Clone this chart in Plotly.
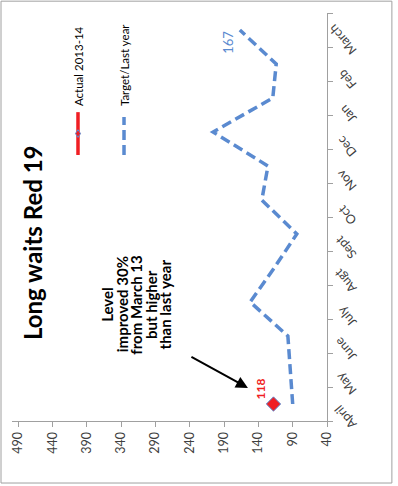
import plotly.graph_objects as go

# Monthly long waits, Red 19
months = ["April", "May", "June", "July", "Augt", "Sept",
          "Oct", "Nov", "Dec", "Jan", "Feb", "March"]
target_last_year = [90, 94, 97, 152, 117, 84, 135, 126, 206, 119, 114, 167]
actual_2013_14 = [118, None, None, None, None, None,
                  None, None, None, None, None, None]
value_ticks = [490, 440, 390, 340, 290, 240, 190, 140, 90, 40]
note_lines = ["Level", "improved 30%", "from March 13",
              "but higher", "than last year"]

BLUE = "#5A8AD0"
RED = "#F01E23"
GREY_TXT = "#404040"
FONT = "Lato"

fig = go.Figure()

fig.add_trace(go.Scatter(
    x=target_last_year, y=months, mode="lines",
    line=dict(color=BLUE, width=3.5, dash="10px,5px"),
    name="Target/Last year", showlegend=False,
))
fig.add_trace(go.Scatter(
    x=actual_2013_14, y=months, mode="markers",
    marker=dict(symbol="diamond", size=11, color=RED,
                line=dict(color=BLUE, width=1)),
    name="Actual 2013-14", showlegend=False,
))

# value labels
fig.add_annotation(x=actual_2013_14[0], y=months[0], text="<b>118</b>",
                   showarrow=False, textangle=-90, xshift=-13, yshift=15,
                   font=dict(family=FONT, size=12, color=RED))
fig.add_annotation(x=target_last_year[-1], y=months[-1], text="167",
                   showarrow=False, textangle=-90, xshift=-12, yshift=-12,
                   font=dict(family=FONT, size=13, color=BLUE))

# title
fig.add_annotation(xref="paper", yref="paper", x=0.0635, y=0.436,
                   text="<b>Long waits Red 19</b>", showarrow=False,
                   textangle=-90, xanchor="center", yanchor="middle",
                   font=dict(family=FONT, size=24, color="black"))

# comment block, one annotation per line for tight spacing
note_x0 = 0.302
note_dx = 0.0457
for i, line in enumerate(note_lines):
    fig.add_annotation(xref="paper", yref="paper",
                       x=note_x0 + i * note_dx, y=0.285,
                       text="<b>" + line + "</b>",
                       showarrow=False, textangle=-90,
                       xanchor="center", yanchor="middle",
                       font=dict(family=FONT, size=15, color="black"))

# arrow pointing to the April actual
fig.add_annotation(xref="paper", yref="paper", x=0.749, y=0.081,
                   ax=-58, ay=-32, text="", showarrow=True,
                   arrowhead=2, arrowsize=1.2, arrowwidth=2,
                   arrowcolor="black")

# legend (drawn rotated)
fig.add_shape(type="line", xref="paper", yref="paper",
              x0=0.2095, x1=0.2095, y0=0.652, y1=0.757,
              line=dict(color=RED, width=3.5))
fig.add_shape(type="path", xref="paper", yref="paper",
              path="M 0.2095 0.714 L 0.2175 0.7045 L 0.2095 0.695 "
                   "L 0.2015 0.7045 Z",
              fillcolor=RED, line=dict(color=BLUE, width=1))
fig.add_shape(type="line", xref="paper", yref="paper",
              x0=0.3556, x1=0.3556, y0=0.652, y1=0.745,
              line=dict(color=BLUE, width=3.5, dash="10px,5px"))
fig.add_annotation(xref="paper", yref="paper", x=0.2095, y=0.767,
                   text="Actual 2013-14", showarrow=False, textangle=-90,
                   xanchor="center", yanchor="bottom",
                   font=dict(family=FONT, size=11.5, color="black"))
fig.add_annotation(xref="paper", yref="paper", x=0.3556, y=0.767,
                   text="Target/Last year", showarrow=False, textangle=-90,
                   xanchor="center", yanchor="bottom",
                   font=dict(family=FONT, size=11.5, color="black"))

# outer border
fig.add_shape(type="rect", xref="paper", yref="paper",
              x0=-0.0349, x1=1.206, y0=-0.152, y1=1.029,
              line=dict(color="#A0A0A0", width=1))

fig.update_xaxes(
    range=[499, 40], tickvals=value_ticks,
    ticktext=[str(v) for v in value_ticks],
    tickangle=-90, ticks="outside", ticklen=5, tickcolor="#A0A0A0",
    showline=True, linecolor="#A0A0A0", linewidth=1,
    showgrid=False, zeroline=False, automargin=False,
    tickfont=dict(family=FONT, size=12.5, color=GREY_TXT),
)
fig.update_yaxes(
    type="category", categoryarray=months, categoryorder="array",
    range=[-0.5, 11.5], side="right", tickangle=-130,
    ticks="outside", ticklen=5, tickcolor="#A0A0A0", tickson="boundaries",
    ticklabelstandoff=22, ticklabelshift=26,
    showline=True, linecolor="#A0A0A0", linewidth=1,
    showgrid=False, zeroline=False, automargin=False,
    tickfont=dict(family=FONT, size=12.5, color=GREY_TXT),
)

fig.update_layout(
    width=398, height=486,
    margin=dict(l=12, r=71, t=13, b=65, autoexpand=False),
    paper_bgcolor="white", plot_bgcolor="white",
    showlegend=False,
)

fig.write_html("out.html")
